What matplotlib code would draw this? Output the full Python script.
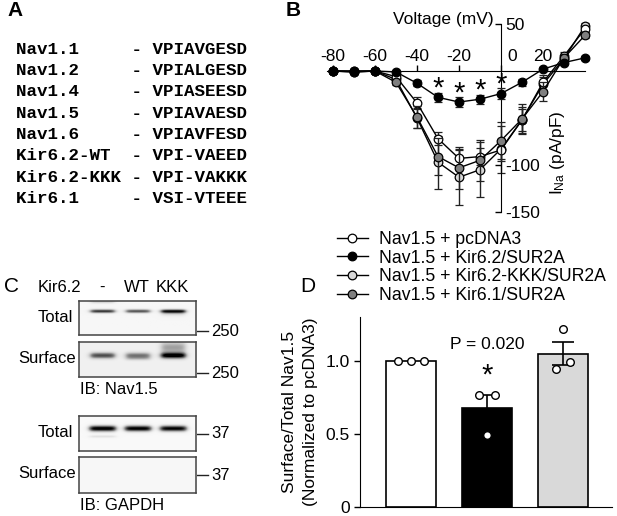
import numpy as np
import matplotlib.pyplot as plt

plt.rcParams['font.family'] = ['Liberation Sans', 'DejaVu Sans']
plt.rcParams['font.size'] = 12.5

W, H = 617, 516

# panel A: alignment
names = ['Nav1.1', 'Nav1.2', 'Nav1.4', 'Nav1.5', 'Nav1.6',
         'Kir6.2-WT', 'Kir6.2-KKK', 'Kir6.1']
seqs = ['VPIAVGESD', 'VPIALGESD', 'VPIASEESD', 'VPIAVAESD', 'VPIAVFESD',
        'VPI-VAEED', 'VPI-VAKKK', 'VSI-VTEEE']

# panel B: I-V curves (pA/pF)
volt = [-80, -70, -60, -50, -40, -30, -20, -10, 0, 10, 20, 30, 40]
ina_pcdna = [0, -1, 0, -6, -34, -72, -93, -91, -84, -52, -12, 16, 45]
sem_pcdna = [1, 1, 1, 2, 6, 7, 9, 9, 12, 14, 8, 4, 3]
ina_kir62 = [0, 0, 0, -1, -13, -28, -33, -30, -24, -12, 2, 9, 14]
sem_kir62 = [1, 1, 1, 1, 3, 5, 5, 5, 6, 4, 2, 2, 2]
ina_kkk = [0, -1, 0, -9, -50, -97, -113, -105, -83, -52, -14, 13, 48]
sem_kkk = [1, 1, 1, 3, 11, 28, 30, 29, 25, 12, 8, 4, 3]
ina_kir61 = [0, 0, 0, -12, -49, -91, -103, -95, -74, -51, -22, 14, 38]
sem_kir61 = [1, 1, 1, 3, 12, 20, 22, 22, 20, 16, 10, 4, 3]
star_volt = [-30, -20, -10, 0]
legend_labels = ['Nav1.5 + pcDNA3', 'Nav1.5 + Kir6.2/SUR2A',
                 'Nav1.5 + Kir6.2-KKK/SUR2A', 'Nav1.5 + Kir6.1/SUR2A']
xtick_vals = [-80, -60, -40, -20, 0, 20]
ytick_vals = [50, -100, -150]

# panel C: blot band strengths per lane
lanes = ['-', 'WT', 'KKK']
nav_total = [0.8, 0.7, 0.9]
nav_surface = [0.65, 0.5, 0.95]
gapdh_total = [1.0, 0.97, 0.95]
gapdh_surface = [0.0, 0.0, 0.0]

# panel D: surface/total ratio
ratio_mean = [1.0, 0.676, 1.05]
ratio_sem = [0.0, 0.09, 0.08]
ratio_pts = [[1.0, 1.0, 1.0], [0.767, 0.493, 0.767], [0.945, 1.22, 0.99]]
pt_offsets = [[-0.17, 0, 0.17], [-0.1, 0, 0.1], [-0.09, 0, 0.09]]
bar_colors = ['white', 'black', '#d9d9d9']

fig = plt.figure(figsize=(W / 100, H / 100), dpi=100)


def px_axes(x0, y0, x1, y1, **kw):
    return fig.add_axes([x0 / W, 1 - y1 / H, (x1 - x0) / W, (y1 - y0) / H], **kw)


# overlay for free text, pixel coords
ov = fig.add_axes([0, 0, 1, 1], zorder=-5)
ov.set_xlim(0, W)
ov.set_ylim(H, 0)
ov.axis('off')

ov.text(7, 11, 'A', fontsize=15, fontweight='bold', va='center')
ov.text(286, 11, 'B', fontsize=15, fontweight='bold', va='center')
ov.text(4, 286, 'C', fontsize=15, va='center')
ov.text(300, 286, 'D', fontsize=15, va='center')

for i, (n, s) in enumerate(zip(names, seqs)):
    ov.text(16, 49 + i * 21.4, f'{n:<10} - {s}', family='Liberation Mono',
            fontweight='bold', fontsize=12.6, va='center')

# ---------------- panel B
axb = px_axes(323, 15, 590, 220)
axb.set_xlim(-84.76, 42.38)
axb.set_ylim(-158.5, 59.6)
axb.patch.set_alpha(0)
for sp in ['left', 'bottom']:
    axb.spines[sp].set_visible(False)
axb.spines['top'].set_position(('data', 0))
axb.spines['right'].set_position(('data', 0))
axb.spines['top'].set_bounds(-83, 40)
axb.spines['right'].set_bounds(-150, 50)
axb.xaxis.set_ticks_position('top')
axb.yaxis.set_ticks_position('right')
axb.set_xticks(xtick_vals)
axb.set_xticklabels([])
axb.set_yticks(ytick_vals)
axb.set_yticklabels([str(v) for v in ytick_vals])
axb.tick_params(axis='x', direction='out', length=4, width=1)
axb.tick_params(axis='y', direction='in', length=4, width=1, pad=3)
for v in xtick_vals:
    axb.text(v + (5.5 if v == 0 else 0), 8, str(v), ha='center', va='bottom')
axb.text(-3.5, 55, 'Voltage (mV)', ha='right', va='center')
axb.text(27, -87, r'$\mathregular{I_{Na}}$ (pA/pF)', rotation=90,
         ha='center', va='center')

series = [(ina_kkk, sem_kkk, '#d9d9d9', 2),
          (ina_pcdna, sem_pcdna, 'white', 3),
          (ina_kir61, sem_kir61, '#7f7f7f', 4),
          (ina_kir62, sem_kir62, 'black', 5)]
handles = {}
for vals, err, col, z in series:
    eb = axb.errorbar(volt, vals, yerr=err, color='black', lw=1, marker='o',
                      ms=6.2, mfc=col, mec='black', mew=0.9, ecolor='#222222',
                      elinewidth=1, capsize=3, capthick=1, zorder=z)
    handles[col] = eb[0]
for v in star_volt:
    k = volt.index(v)
    axb.text(v, ina_kir62[k] + sem_kir62[k] + 4, '*', ha='center',
             va='center', fontsize=21, zorder=6)

leg = axb.legend([handles['white'], handles['black'], handles['#d9d9d9'],
                  handles['#7f7f7f']], legend_labels, loc='upper left',
                 bbox_to_anchor=(337 / W, 1 - 231 / H),
                 bbox_transform=fig.transFigure, frameon=False,
                 borderpad=0, borderaxespad=0, handlelength=1.75,
                 handletextpad=0.65, labelspacing=0.09, fontsize=12.7)

# ---------------- panel C
lane_x = [23, 58, 93]


def blot(ax, levels, yc, sy, half_w, bg, extra=()):
    h, w = 35, 117
    yy, xx = np.mgrid[0:h, 0:w]
    img = np.full((h, w), bg, dtype=float)
    bands = [(lx, lev, yc, sy) for lx, lev in zip(lane_x, levels)] + list(extra)
    for lx, lev, c, s in bands:
        xprof = 1 / (1 + np.exp((np.abs(xx - lx) - half_w) / 1.6))
        img += lev * np.exp(-((yy - c) / s) ** 2) * xprof
    ax.imshow(np.clip(img, 0, 1), cmap='Greys', vmin=0, vmax=1,
              aspect='auto', extent=(0, w, h, 0), interpolation='bilinear')
    ax.set_xticks([])
    ax.set_yticks([])
    for sp in ax.spines.values():
        sp.set_color('#444444')
        sp.set_linewidth(1.1)


boxes = [(301, 335), (342, 377), (416, 451), (457, 493)]
a1 = px_axes(79, 301, 196, 335)
blot(a1, nav_total, 10, 1.8, 12, 0.07,
     extra=[(23, 0.25, 0, 2), (93, 0.2, 12, 3)])
a2 = px_axes(79, 342, 196, 377)
blot(a2, nav_surface, 13, 3.0, 12, 0.12,
     extra=[(93, 0.35, 5, 6), (58, 0.15, 16, 2)])
a3 = px_axes(79, 416, 196, 451)
blot(a3, gapdh_total, 12, 3.0, 13, 0.05, extra=[(23, 0.15, 20, 1.5)])
a4 = px_axes(79, 457, 196, 493)
blot(a4, gapdh_surface, 12, 3.0, 13, 0.06)

ov.text(38, 287, 'Kir6.2', va='center', fontsize=12)
for lx, lab in zip(lane_x, lanes):
    ov.text(79 + lx, 287, lab, ha='center', va='center', fontsize=12)
for (y0, y1), lab in zip(boxes, ['Total', 'Surface', 'Total', 'Surface']):
    ov.text(73 if lab == 'Total' else 76, (y0 + y1) / 2 - 1, lab,
            ha='right', va='center', fontsize=12)
for (y0, y1), mw in zip(boxes, ['250', '250', '37', '37']):
    ym = y1 - 4 if mw == '250' else (y0 + y1) / 2
    ov.plot([196, 208], [ym, ym], color='#222222', lw=1)
    ov.text(211, ym, mw, va='center', fontsize=12)
ov.text(80, 390, 'IB: Nav1.5', va='center', fontsize=12)
ov.text(80, 506, 'IB: GAPDH', va='center', fontsize=12)

# ---------------- panel D
axd = px_axes(360, 317, 612, 507)
axd.set_xlim(-0.67, 2.645)
axd.set_ylim(0, 1.3)
axd.patch.set_alpha(0)
xs = np.arange(len(ratio_mean))
axd.bar(xs, ratio_mean, width=0.66, color=bar_colors, edgecolor='black',
        linewidth=1.2, zorder=2)
axd.errorbar(xs[1:], ratio_mean[1:], yerr=ratio_sem[1:], fmt='none',
             ecolor='black', elinewidth=1.2, capsize=8, capthick=1.2, zorder=3)
for x, pts, offs in zip(xs, ratio_pts, pt_offsets):
    axd.scatter([x + o for o in offs], pts, s=30, facecolor='white',
                edgecolor='black', linewidth=1, zorder=4)
axd.spines['top'].set_visible(False)
axd.spines['right'].set_visible(False)
axd.set_xticks([])
axd.set_yticks([0, 0.5, 1.0])
axd.set_yticklabels(['0', '0.5', '1.0'])
axd.tick_params(axis='y', length=4, width=1)
axd.text(1, 1.11, 'P = 0.020', ha='center', va='center')
axd.text(1, 0.9, '*', ha='center', va='center', fontsize=21)
ov.text(290, 412, 'Surface/Total Nav1.5', rotation=90, ha='center',
        va='center', fontsize=12.5)
ov.text(310, 412, '(Normalized to pcDNA3)', rotation=90, ha='center',
        va='center', fontsize=12.5)

fig.savefig('out.png', dpi=100)
